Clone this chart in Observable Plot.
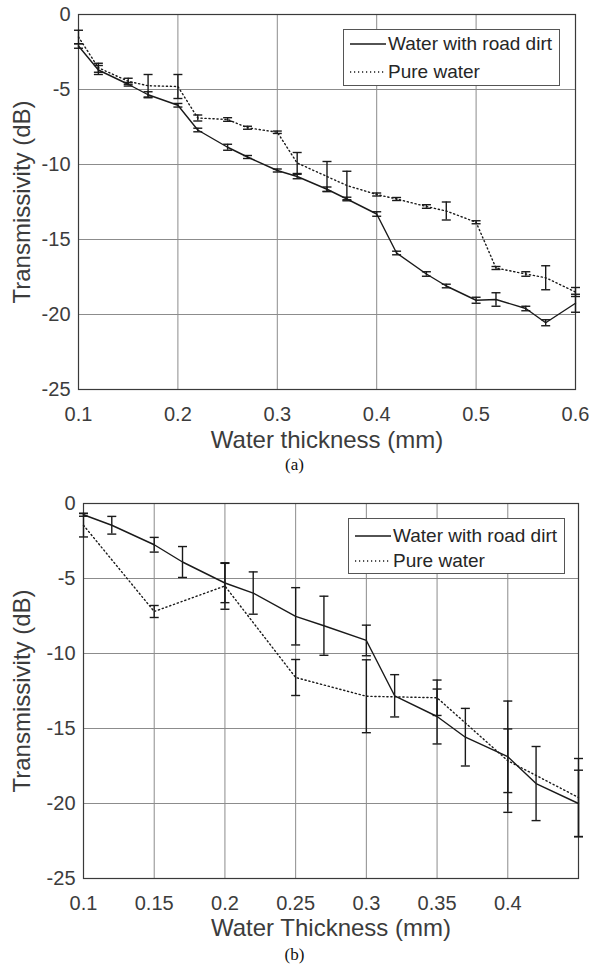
<!DOCTYPE html>
<html>
<head>
<meta charset="utf-8">
<script src="https://cdn.jsdelivr.net/npm/d3@7"></script>
<script src="https://cdn.jsdelivr.net/npm/@observablehq/plot@0.6"></script>
<style>
  body { margin: 0; background: #fff; }
  #page { position: relative; width: 589px; height: 975px; overflow: hidden; font-family: "Liberation Sans", Arial, sans-serif; }
  .chart { position: absolute; left: 0; }
  .legend { position: absolute; background: #fff; border: 1px solid #555; box-sizing: border-box; font-size: 19px; color: #262626; }
  .legend .row { position: absolute; left: 0; height: 22px; line-height: 22px; white-space: nowrap; }
  .legend svg { position: absolute; top: 0; }
  .legend span { position: absolute; top: 0; }
  .caption { position: absolute; left: 0; width: 589px; text-align: center; font-family: "Liberation Serif", "Times New Roman", serif; font-size: 17px; color: #111; line-height: 18px; }
</style>
</head>
<body>
<div id="page"></div>
<script>
// ---------- Data: chart (a) ----------
const aThickness = [0.1, 0.12, 0.15, 0.17, 0.2, 0.22, 0.25, 0.27, 0.3, 0.32, 0.35, 0.37, 0.4, 0.42, 0.45, 0.47, 0.5, 0.52, 0.55, 0.57, 0.6];
const aDirtValues = [-2.1, -3.7, -4.65, -5.35, -6.05, -7.7, -8.85, -9.5, -10.4, -10.8, -11.65, -12.3, -13.3, -15.9, -17.3, -18.1, -19.05, -19.0, -19.6, -20.55, -19.25];
const aDirtErrors = [0.15, 0.3, 0.12, 0.2, 0.12, 0.12, 0.2, 0.1, 0.1, 0.15, 0.15, 0.12, 0.15, 0.12, 0.15, 0.12, 0.2, 0.45, 0.15, 0.2, 0.6];
const aPureValues = [-1.5, -3.55, -4.45, -4.75, -4.8, -6.9, -7.0, -7.55, -7.85, -9.9, -10.8, -11.4, -12.0, -12.3, -12.8, -13.1, -13.85, -16.9, -17.3, -17.55, -18.5];
const aPureErrors = [0.45, 0.3, 0.2, 0.75, 0.8, 0.2, 0.12, 0.1, 0.08, 0.7, 1.0, 0.95, 0.1, 0.1, 0.12, 0.6, 0.1, 0.1, 0.15, 0.8, 0.3];
const aXTicks = [0.1, 0.2, 0.3, 0.4, 0.5, 0.6];

// ---------- Data: chart (b) ----------
const bDirtThickness = [0.1, 0.12, 0.15, 0.17, 0.2, 0.22, 0.25, 0.27, 0.3, 0.32, 0.35, 0.37, 0.4, 0.42, 0.45];
const bDirtValues = [-0.75, -1.45, -2.75, -3.9, -5.3, -5.97, -7.52, -8.15, -9.13, -12.82, -14.2, -15.58, -16.88, -18.67, -20.0];
const bDirtErrors = [0.1, 0.59, 0.49, 1.03, 1.31, 1.41, 1.91, 1.97, 1.02, 1.41, 1.83, 1.92, 3.71, 2.47, 2.22];
const bPureThickness = [0.1, 0.15, 0.2, 0.25, 0.3, 0.35, 0.4, 0.45];
const bPureValues = [-1.45, -7.2, -5.5, -11.6, -12.85, -12.95, -17.15, -19.6];
const bPureErrors = [0.78, 0.4, 1.55, 1.2, 2.43, 1.18, 2.12, 2.6];
const bXTicks = [0.1, 0.15, 0.2, 0.25, 0.3, 0.35, 0.4];

const yTicks = [0, -5, -10, -15, -20, -25];
const seriesNames = ["Water with road dirt", "Pure water"];
const yLabel = "Transmissivity (dB)";
const aXLabel = "Water thickness (mm)";
const bXLabel = "Water Thickness (mm)";

const INK = "#1a1a1a";
const TEXT = "#3c3c3c";
const capSymbol = {
  draw(context, size) {
    const r = Math.sqrt(size / Math.PI);
    context.moveTo(-r, 0);
    context.lineTo(r, 0);
  }
};

function rows(xs, ys, es) {
  return xs.map((x, i) => ({x, y: ys[i], e: es[i]}));
}

function makeChart({xDomain, xTicks, dirt, pure, xLabel, marginLeft, marginRight, height, marginBottom, labelDy}) {
  const all = dirt.concat(pure);
  const caps = all.flatMap(d => [{x: d.x, y: d.y + d.e}, {x: d.x, y: d.y - d.e}]);
  return Plot.plot({
    width: 589,
    height,
    marginTop: 14,
    marginLeft,
    marginRight,
    marginBottom,
    style: {fontFamily: "'Liberation Sans', Arial, sans-serif", fontSize: "20px", color: TEXT, background: "transparent", overflow: "visible"},
    x: {domain: xDomain},
    y: {domain: [-25, 0]},
    marks: [
      Plot.gridX(xTicks, {stroke: "#8c8c8c", strokeOpacity: 1, strokeWidth: 1}),
      Plot.gridY(yTicks, {stroke: "#8c8c8c", strokeOpacity: 1, strokeWidth: 1}),
      Plot.frame({stroke: "#3a3a3a", strokeWidth: 1.2}),
      Plot.axisX(xTicks, {tickSize: 0, tickPadding: 17, tickFormat: d => String(d), label: null, fontSize: 20, fill: TEXT}),
      Plot.axisY(yTicks, {tickSize: 0, tickPadding: 8, tickFormat: d => String(d), label: null, fontSize: 20, fill: TEXT}),
      Plot.text([xLabel], {text: d => d, frameAnchor: "bottom", lineAnchor: "bottom", textAnchor: "middle", dy: labelDy, fontSize: 24, fill: TEXT}),
      Plot.text([yLabel], {text: d => d, frameAnchor: "left", lineAnchor: "top", textAnchor: "middle", rotate: -90, dx: -(marginLeft - 12), fontSize: 24, fill: TEXT}),
      Plot.line(dirt, {x: "x", y: "y", stroke: INK, strokeWidth: 1.4}),
      Plot.line(pure, {x: "x", y: "y", stroke: INK, strokeWidth: 1.4, strokeDasharray: "1.2,2.8"}),
      Plot.ruleX(all, {x: "x", y1: d => d.y - d.e, y2: d => d.y + d.e, stroke: INK, strokeWidth: 1.4}),
      Plot.dot(caps, {x: "x", y: "y", r: 4.5, symbol: capSymbol, fill: "none", stroke: INK, strokeWidth: 1.4})
    ]
  });
}

function addLegend(page, left, top, width, height, row1, row2, textLeft) {
  const box = document.createElement("div");
  box.className = "legend";
  Object.assign(box.style, {left: left + "px", top: top + "px", width: width + "px", height: height + "px"});
  [[row1, null], [row2, "1.2,2.8"]].forEach(([cy, dash], i) => {
    const row = document.createElement("div");
    row.className = "row";
    row.style.top = (cy - 11) + "px";
    row.style.width = width + "px";
    const svg = d3.create("svg").attr("width", 40).attr("height", 22).style("left", "6px");
    svg.append("line").attr("x1", 0).attr("x2", 36).attr("y1", 11).attr("y2", 11)
      .attr("stroke", INK).attr("stroke-width", 1.3).attr("stroke-dasharray", dash);
    row.appendChild(svg.node());
    const span = document.createElement("span");
    span.style.left = textLeft + "px";
    span.textContent = seriesNames[i];
    row.appendChild(span);
    box.appendChild(row);
  });
  page.appendChild(box);
}

function addCaption(page, text, top) {
  const c = document.createElement("div");
  c.className = "caption";
  c.style.top = top + "px";
  c.textContent = text;
  page.appendChild(c);
}

const page = document.getElementById("page");

const chartA = makeChart({
  xDomain: [0.1, 0.6], xTicks: aXTicks,
  dirt: rows(aThickness, aDirtValues, aDirtErrors),
  pure: rows(aThickness, aPureValues, aPureErrors),
  xLabel: aXLabel, marginLeft: 78, marginRight: 14, height: 456, marginBottom: 67, labelDy: 58
});
chartA.classList.add("chart");
chartA.style.top = "0px";
page.appendChild(chartA);
addLegend(page, 343, 29, 217, 57, 14, 42, 44);
addCaption(page, "(a)", 456);

const chartB = makeChart({
  xDomain: [0.1, 0.45], xTicks: bXTicks,
  dirt: rows(bDirtThickness, bDirtValues, bDirtErrors),
  pure: rows(bPureThickness, bPureValues, bPureErrors),
  xLabel: bXLabel, marginLeft: 83, marginRight: 11, height: 449, marginBottom: 60, labelDy: 57
});
chartB.classList.add("chart");
chartB.style.top = "489px";
page.appendChild(chartB);
addLegend(page, 348, 518, 217, 56, 17, 42, 44);
addCaption(page, "(b)", 946);
</script>
</body>
</html>
